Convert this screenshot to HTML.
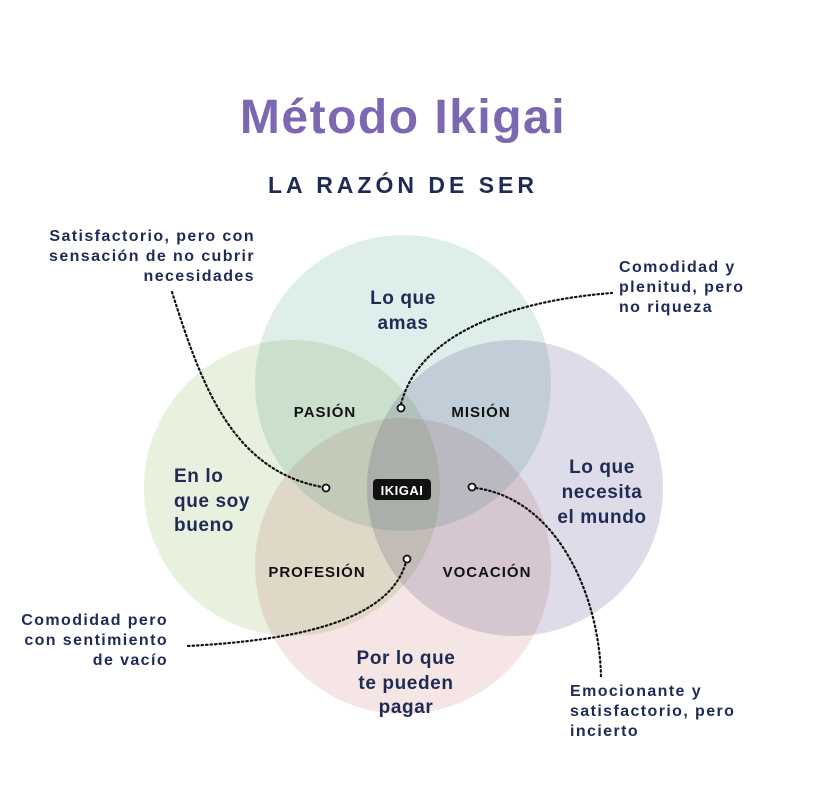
<!DOCTYPE html>
<html><head><meta charset="utf-8"><style>
body{margin:0;background:#fff;width:837px;height:811px;overflow:hidden}
svg{display:block}
text{font-family:"Liberation Sans",sans-serif;font-weight:bold}
.n{fill:#1f2a55;font-size:19px;letter-spacing:0.6px}
.s{fill:#1f2a55;font-size:16px;letter-spacing:1.4px}
.k{fill:#111;font-size:15px;letter-spacing:1px}
circle.c{mix-blend-mode:multiply}
</style></head><body>
<svg width="837" height="811" viewBox="0 0 837 811">
<text x="403" y="133" text-anchor="middle" style="font-size:48px;fill:#7b68b0;letter-spacing:1.5px">Método Ikigai</text>
<text x="403" y="193" text-anchor="middle" style="font-size:23px;fill:#1f2a55;letter-spacing:4px">LA RAZÓN DE SER</text>
<g style="isolation:isolate">
<circle class="c" cx="403" cy="383" r="148" fill="#dcedea" opacity="0.92"/>
<circle class="c" cx="292" cy="488" r="148" fill="#e6efdb" opacity="0.92"/>
<circle class="c" cx="515" cy="488" r="148" fill="#dcd9e8" opacity="0.92"/>
<circle class="c" cx="403" cy="566" r="148" fill="#f5e3e2" opacity="0.92"/>
</g>
<g text-anchor="middle">
<text x="403" y="304" class="n">Lo que</text><text x="403" y="329" class="n">amas</text>
<text x="602" y="473" class="n">Lo que</text><text x="602" y="498" class="n">necesita</text><text x="602" y="523" class="n">el mundo</text>
<text x="406" y="664" class="n">Por lo que</text><text x="406" y="689" class="n">te pueden</text><text x="406" y="713" class="n">pagar</text>
</g>
<text x="174" y="482" class="n">En lo</text><text x="174" y="507" class="n">que soy</text><text x="174" y="531" class="n">bueno</text>
<g text-anchor="middle">
<text x="325" y="417" class="k">PASIÓN</text>
<text x="481" y="417" class="k">MISIÓN</text>
<text x="317" y="577" class="k">PROFESIÓN</text>
<text x="487" y="577" class="k">VOCACIÓN</text>
</g>
<rect x="373" y="479" width="58" height="21" rx="4" fill="#111"/>
<text x="402" y="495" text-anchor="middle" style="font-size:13px;fill:#fff;letter-spacing:0.5px">IKIGAI</text>
<g fill="none" stroke="#111" stroke-width="2.2" stroke-dasharray="1.5 3" stroke-linecap="round">
<path d="M172 292 C200 380 230 470 322 487"/>
<path d="M401 404 C420 330 520 300 612 293"/>
<path d="M188 646 C300 640 390 620 406 562"/>
<path d="M476 488 C560 500 600 600 601 678"/>
</g>
<g fill="#fff" stroke="#111" stroke-width="1.8">
<circle cx="326" cy="488" r="3.5"/><circle cx="401" cy="408" r="3.5"/>
<circle cx="407" cy="559" r="3.5"/><circle cx="472" cy="487" r="3.5"/>
</g>
<g text-anchor="end">
<text x="255" y="241" class="s">Satisfactorio, pero con</text>
<text x="255" y="261" class="s">sensación de no cubrir</text>
<text x="255" y="281" class="s">necesidades</text>
<text x="168" y="625" class="s">Comodidad pero</text>
<text x="168" y="645" class="s">con sentimiento</text>
<text x="168" y="665" class="s">de vacío</text>
</g>
<text x="619" y="272" class="s">Comodidad y</text>
<text x="619" y="292" class="s">plenitud, pero</text>
<text x="619" y="312" class="s">no riqueza</text>
<text x="570" y="696" class="s">Emocionante y</text>
<text x="570" y="716" class="s">satisfactorio, pero</text>
<text x="570" y="736" class="s">incierto</text>
</svg>
</body></html>
